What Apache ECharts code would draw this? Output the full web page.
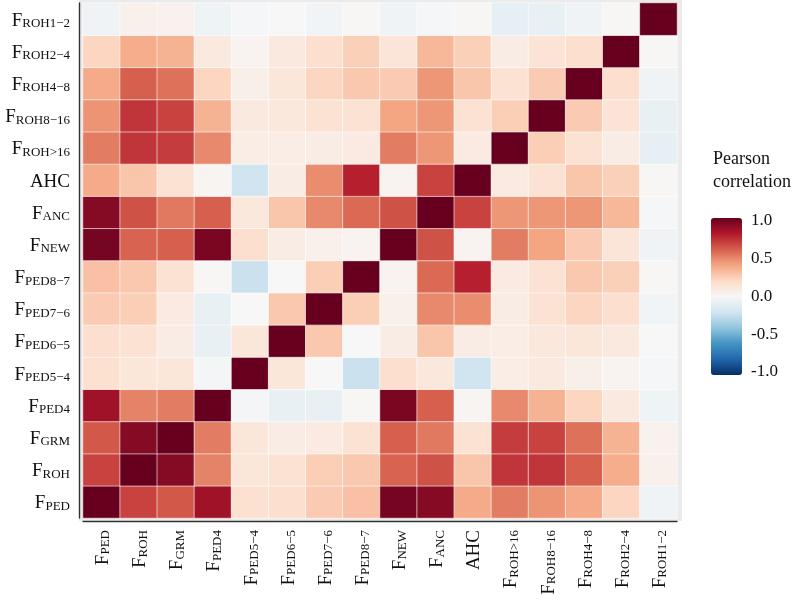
<!DOCTYPE html>
<html>
<head>
<meta charset="utf-8">
<script src="https://cdn.jsdelivr.net/npm/echarts@6/dist/echarts.min.js"></script>
<style>html,body{margin:0;padding:0;background:#fff;}#c{width:797px;height:600px;}</style>
</head>
<body>
<div id="c"></div>
<script>
// Variables (same order on x from left and on y from bottom)
const cats = ['FPED','FROH','FGRM','FPED4','FPED5-4','FPED6-5','FPED7-6','FPED8-7','FNEW','FANC','AHC','FROH>16','FROH8-16','FROH4-8','FROH2-4','FROH1-2'];
const labelMain = ['F','F','F','F','F','F','F','F','F','F','AHC','F','F','F','F','F'];
const labelSub = ['PED','ROH','GRM','PED4','PED5−4','PED6−5','PED7−6','PED8−7','NEW','ANC','','ROH>16','ROH8−16','ROH4−8','ROH2−4','ROH1−2'];

// Pearson correlation rows (row i = y category i, column j = x category j)
const rFPED    = [1, 0.68, 0.62, 0.85, 0.16, 0.17, 0.26, 0.30, 0.96, 0.92, 0.38, 0.52, 0.45, 0.38, 0.22, -0.04];
const rFROH    = [0.68, 1, 0.92, 0.50, 0.12, 0.15, 0.25, 0.27, 0.59, 0.64, 0.28, 0.72, 0.72, 0.60, 0.37, 0.05];
const rFGRM    = [0.62, 0.92, 1, 0.52, 0.12, 0.08, 0.09, 0.15, 0.60, 0.53, 0.15, 0.70, 0.68, 0.55, 0.35, 0.04];
const rFPED4   = [0.85, 0.50, 0.52, 1, -0.02, -0.08, -0.08, 0.01, 0.95, 0.60, 0.02, 0.48, 0.35, 0.22, 0.10, -0.05];
const rFPED54  = [0.16, 0.12, 0.12, -0.02, 1, 0.12, 0.00, -0.22, 0.17, 0.11, -0.20, 0.07, 0.10, 0.06, 0.03, -0.01];
const rFPED65  = [0.17, 0.15, 0.08, -0.08, 0.12, 1, 0.27, 0.00, 0.08, 0.28, 0.08, 0.07, 0.11, 0.12, 0.10, 0.00];
const rFPED76  = [0.26, 0.25, 0.09, -0.08, 0.00, 0.27, 1, 0.25, 0.05, 0.48, 0.47, 0.08, 0.15, 0.22, 0.17, -0.03];
const rFPED87  = [0.30, 0.27, 0.15, 0.01, -0.22, 0.00, 0.25, 1, 0.03, 0.57, 0.78, 0.09, 0.15, 0.27, 0.24, 0.01];
const rFNEW    = [0.96, 0.59, 0.60, 0.95, 0.17, 0.08, 0.05, 0.03, 1, 0.64, 0.03, 0.52, 0.40, 0.26, 0.13, -0.04];
const rFANC    = [0.92, 0.64, 0.53, 0.60, 0.11, 0.28, 0.48, 0.57, 0.64, 1, 0.68, 0.44, 0.44, 0.44, 0.33, -0.01];
const rAHC     = [0.38, 0.28, 0.15, 0.02, -0.20, 0.08, 0.47, 0.78, 0.03, 0.68, 1, 0.09, 0.15, 0.28, 0.24, 0.01];
const rFROH16p = [0.52, 0.72, 0.70, 0.48, 0.07, 0.07, 0.08, 0.09, 0.52, 0.44, 0.09, 1, 0.25, 0.15, 0.08, -0.09];
const rFROH816 = [0.45, 0.72, 0.68, 0.35, 0.10, 0.11, 0.15, 0.15, 0.40, 0.44, 0.15, 0.25, 1, 0.26, 0.14, -0.08];
const rFROH48  = [0.38, 0.60, 0.55, 0.22, 0.06, 0.12, 0.22, 0.27, 0.26, 0.44, 0.28, 0.15, 0.26, 1, 0.17, -0.04];
const rFROH24  = [0.22, 0.37, 0.35, 0.10, 0.03, 0.10, 0.17, 0.24, 0.13, 0.33, 0.24, 0.08, 0.14, 0.17, 1, 0.01];
const rFROH12  = [-0.04, 0.05, 0.04, -0.05, -0.01, 0.00, -0.03, 0.01, -0.04, -0.01, 0.01, -0.09, -0.08, -0.04, 0.01, 1];
const rows = [rFPED, rFROH, rFGRM, rFPED4, rFPED54, rFPED65, rFPED76, rFPED87, rFNEW, rFANC, rAHC, rFROH16p, rFROH816, rFROH48, rFROH24, rFROH12];

const rdbu = ['#053061','#2166AC','#4393C3','#92C5DE','#D1E5F0','#F7F7F7','#FDDBC7','#F4A582','#D6604D','#B2182B','#67001F'];

const data = [];
rows.forEach((row, i) => row.forEach((v, j) => data.push([j, i, v])));

const serif = '"Liberation Serif", "DejaVu Serif", serif';
const fmt = (v) => {
  const i = cats.indexOf(v);
  return labelSub[i] ? '{m|' + labelMain[i] + '}{s|' + labelSub[i] + '}' : '{m|' + labelMain[i] + '}';
};
const rich = {
  m: { fontFamily: serif, fontSize: 19, color: '#111', lineHeight: 22, verticalAlign: 'bottom' },
  s: { fontFamily: serif, fontSize: 13, color: '#111', lineHeight: 13, verticalAlign: 'bottom' }
};
const axisLineStyle = { color: '#333', width: 1.4 };

const chart = echarts.init(document.getElementById('c'), null, { renderer: 'canvas' });
chart.setOption({
  backgroundColor: '#fff',
  animation: false,
  title: {
    text: 'Pearson\ncorrelation', left: 708, top: 143,
    textStyle: { fontFamily: serif, fontSize: 18, fontWeight: 'normal', color: '#111', lineHeight: 23 }
  },
  graphic: [{
    type: 'rect', z: -10, silent: true,
    shape: { x: 79, y: 0, width: 603, height: 521 },
    style: { fill: '#EBEBEB' }
  }],
  grid: [
    { left: 83, top: 3, width: 594, height: 515 },
    { left: 711, top: 221, width: 31, height: 151 }
  ],
  xAxis: [
    {
      type: 'category', data: cats, gridIndex: 0, offset: 3,
      axisLine: { lineStyle: axisLineStyle },
      axisTick: { length: 5, alignWithLabel: true, lineStyle: { color: '#333' } },
      axisLabel: { rotate: 90, interval: 0, margin: 9, formatter: fmt, rich: rich },
      splitLine: { show: false }
    },
    { type: 'category', gridIndex: 1, data: ['a'], show: false }
  ],
  yAxis: [
    {
      type: 'category', data: cats, gridIndex: 0, offset: 4,
      axisLine: { lineStyle: axisLineStyle },
      axisTick: { length: 5, alignWithLabel: true, lineStyle: { color: '#333' } },
      axisLabel: { interval: 0, margin: 9, formatter: fmt, rich: rich },
      splitLine: { show: false }
    },
    {
      type: 'value', gridIndex: 1, min: -1, max: 1, interval: 0.5, position: 'right',
      axisLine: { show: false },
      axisTick: { show: true, inside: true, length: 6, lineStyle: { color: '#fff', width: 1 } },
      axisLabel: { margin: 9, fontFamily: serif, fontSize: 17, color: '#111', formatter: (v) => v.toFixed(1) },
      splitLine: { show: false }
    },
    {
      type: 'value', gridIndex: 1, min: -1, max: 1, interval: 0.5, position: 'left',
      axisLine: { show: false },
      axisTick: { show: true, inside: true, length: 6, lineStyle: { color: '#fff', width: 1 } },
      axisLabel: { show: false },
      splitLine: { show: false }
    }
  ],
  visualMap: {
    type: 'continuous', min: -1, max: 1, calculable: false, show: true,
    seriesIndex: 0, orient: 'vertical', left: 711, top: 218, itemWidth: 31, itemHeight: 157,
    padding: 0, inRange: { color: rdbu }, hoverLink: false
  },
  series: [{
    type: 'heatmap', xAxisIndex: 0, yAxisIndex: 0, data: data,
    itemStyle: { borderColor: 'rgba(255,255,255,0.75)', borderWidth: 0.8 },
    emphasis: { disabled: true }
  }]
});
</script>
</body>
</html>
